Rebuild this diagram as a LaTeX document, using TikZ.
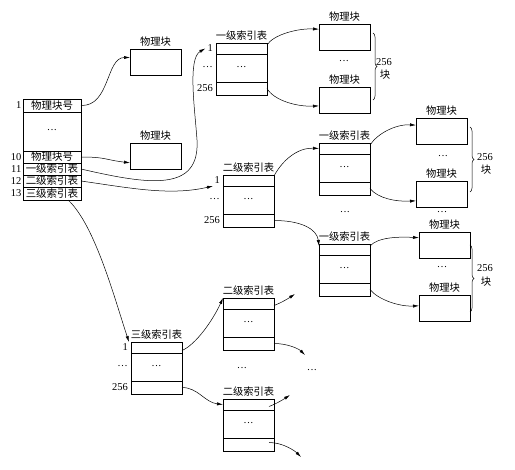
\documentclass[tikz,border=0pt]{standalone}
\usepackage{fontspec}
\setmainfont{Liberation Serif}
\newfontfamily\cjk{Noto Sans CJK SC}
\usetikzlibrary{arrows.meta,decorations.pathreplacing}
\newcommand\mydots{···}
\newcommand\idxtab[4]{%
  \node[rowa] (#1a) at (#2,#3) {};
  \node[rowb] (#1b) at (#1a.south west) {\mydots};
  \node[rowc] (#1c) at (#1b.south west) {};
  \node[ttl] (#1t) at ([yshift=3.5pt]#1a.north) {#4};
}
\newcommand\tabnums[1]{%
  \node[num] (#1n1) at (#1a.west) {1};
  \node[num] (#1n2) at (#1b.west) {\mydots};
  \node[num] (#1n3) at (#1c.west) {256};
}
\begin{document}
\begin{tikzpicture}[x=1pt,y=-1pt,
  every node/.style={font=\fontsize{10.5}{12}\selectfont},
  box/.style={draw, line width=0.5pt, inner sep=0pt, outer sep=0pt, minimum width=51pt, anchor=north west},
  rowa/.style={box, minimum height=11pt},
  rowb/.style={box, minimum height=28pt},
  rowc/.style={box, minimum height=13pt},
  pblk/.style={box, minimum height=26pt},
  ttl/.style={anchor=base, inner sep=0pt, font=\cjk\fontsize{10.3}{12}\selectfont},
  num/.style={anchor=east, inner sep=0pt, xshift=-3pt},
  irow/.style={draw, line width=0.5pt, inner sep=0pt, outer sep=0pt, minimum width=58pt, anchor=north west, font=\cjk\fontsize{10.5}{12}\selectfont},
  inum/.style={anchor=east, inner sep=0pt, xshift=-1.5pt},
  conn/.style={-{Latex[length=6pt,width=3.2pt]}, line width=0.5pt},
  brc/.style={decorate, decoration={brace, amplitude=4pt}, line width=0.5pt},
  dts/.style={inner sep=0pt},
  cj/.style={inner sep=0pt, font=\cjk\fontsize{10.3}{12}\selectfont}
]
\useasboundingbox (0,0) rectangle (515,470);

% inode table
\node[irow, minimum height=13pt] (in1) at (23,99) {物理块号};
\node[irow, minimum height=39pt, font=\fontsize{10.5}{12}\selectfont] (in2) at (in1.south west) {\mydots};
\node[irow, minimum height=12pt] (in10) at (in2.south west) {物理块号};
\node[irow, minimum height=12pt] (in11) at (in10.south west) {一级索引表};
\node[irow, minimum height=12pt] (in12) at (in11.south west) {二级索引表};
\node[irow, minimum height=13pt] (in13) at (in12.south west) {三级索引表};
\node[inum] (l1) at (in1.west) {1};
\node[inum] (l10) at (in10.west) {10};
\node[inum] (l11) at (in11.west) {11};
\node[inum] (l12) at (in12.west) {12};
\node[inum] (l13) at (in13.west) {13};

% physical blocks
\node[pblk] (p1) at (130,49) {};  \node[ttl] (p1t) at ([yshift=3.5pt]p1.north) {物理块};
\node[pblk] (p2) at (130,143) {}; \node[ttl] (p2t) at ([yshift=3.5pt]p2.north) {物理块};
\node[pblk] (p3) at (319,24) {};  \node[ttl] (p3t) at ([yshift=3.5pt]p3.north) {物理块};
\node[pblk] (p4) at (319,87) {};  \node[ttl] (p4t) at ([yshift=3.5pt]p4.north) {物理块};
\node[pblk] (p5) at (416,118) {}; \node[ttl] (p5t) at ([yshift=3.5pt]p5.north) {物理块};
\node[pblk] (p6) at (416,181) {}; \node[ttl] (p6t) at ([yshift=3.5pt]p6.north) {物理块};
\node[pblk] (p7) at (419,232) {}; \node[ttl] (p7t) at ([yshift=3.5pt]p7.north) {物理块};
\node[pblk] (p8) at (419,295) {}; \node[ttl] (p8t) at ([yshift=3.5pt]p8.north) {物理块};

% index tables
\idxtab{t1}{216}{43}{一级索引表}\tabnums{t1}
\idxtab{t2}{223}{175}{二级索引表}\tabnums{t2}
\idxtab{t3}{319}{143}{一级索引表}
\idxtab{t4}{319}{244}{一级索引表}
\idxtab{t5}{131}{342}{三级索引表}\tabnums{t5}
\idxtab{t6}{223}{298}{二级索引表}
\idxtab{t7}{223}{399}{二级索引表}

% dots
\node[dts] (dp34) at (344,62) {\mydots};
\node[dts] (dp56) at (443,157) {\mydots};
\node[dts] (dp6b) at (442,213) {\mydots};
\node[dts] (dp78) at (442,268) {\mydots};
\node[dts] (dt34) at (345,213) {\mydots};
\node[dts] (db1) at (242,369) {\mydots};
\node[dts] (db2) at (312,371) {\mydots};

% braces
\draw[brc] (373,33) -- (373,100);
\node[inner sep=0pt] (b1n) at (384,62) {256};
\node[cj] (b1k) at (385,75) {块};
\draw[brc] (470,127) -- (470,192);
\node[inner sep=0pt] (b2n) at (485,157) {256};
\node[cj] (b2k) at (486,170) {块};
\draw[brc] (470,245) -- (470,312);
\node[inner sep=0pt] (b3n) at (485,268) {256};
\node[cj] (b3k) at (486,282) {块};

% connectors from inode
\draw[conn] (in1.east) .. controls +(29,1) and +(-24,0) .. (p1.170);
\draw[conn] (in10.east) .. controls +(25,0) and +(-25,-3) .. (p2.195);
\coordinate (w11) at (197,140);
\draw[conn] (in11.east) .. controls +(69,16) and +(3,52) .. (w11)
  .. controls +(-2,-30) and +(-18,10) .. ([xshift=-2pt]t1n1.west);
\draw[conn] (in12.east) .. controls +(49,7) and +(-43,10) .. ([xshift=-10pt]t2a.south west);
\draw[conn] (in13.-22) .. controls +(27,25) and +(-14,-42) .. ([xshift=-2pt]t5a.north west);

% first-level top
\draw[conn] ([yshift=-2pt]t1a.north east) .. controls +(6,-10) and +(-22,-1) .. (p3.163);
\draw[conn] (t1c.east) .. controls +(7,12) and +(-22,1) .. (p4.193);

% second-level middle
\draw[conn] ([yshift=-1pt]t2a.north east) .. controls +(8,-15) and +(-22,-1) .. (t3a.west);
\draw[conn] (t2c.east) .. controls +(27,0) and +(-2,-17) .. ([yshift=-2pt]t4a.north west);

% first-level middle
\draw[conn] ([yshift=-2pt]t3a.north east) .. controls +(8,-12) and +(-20,-1) .. (p5.167);
\draw[conn] (t3c.east) .. controls +(8,10) and +(-20,1) .. (p6.195);
\draw[conn] ([yshift=-2pt]t4a.north east) .. controls +(8,-9) and +(-20,-1) .. (p7.164);
\draw[conn] (t4c.east) .. controls +(8,10) and +(-20,1) .. (p8.175);

% third-level
\draw[conn] ([yshift=-3pt]t5a.east) .. controls +(14,-6) and +(-10,22) .. (t6a.north west);
\draw[conn] (t5c.east) .. controls +(16,0) and +(-18,-2) .. (t7a.west);

% free ends
\coordinate (e6a) at (295,294);
\coordinate (e6c) at (305,355);
\coordinate (e7a) at (290,395);
\coordinate (e7c) at (301,457);
\draw[conn] ([yshift=-2pt]t6a.east) .. controls +(8,-3) and +(-6,4) .. (e6a);
\draw[conn] (t6c.east) .. controls +(14,0) and +(-6,-6) .. (e6c);
\draw[conn] ([xshift=-5pt,yshift=-2pt]t7a.east) .. controls +(8,-3) and +(-6,4) .. (e7a);
\draw[conn] ([xshift=-5pt,yshift=2pt]t7c.east) .. controls +(14,0) and +(-6,-6) .. (e7c);
\end{tikzpicture}
\end{document}
